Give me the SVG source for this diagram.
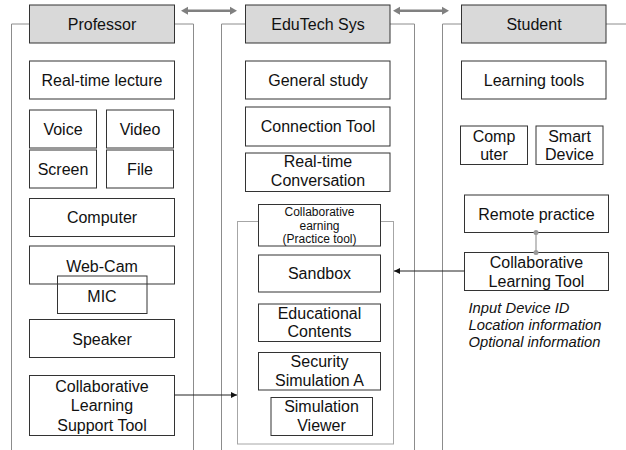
<svg xmlns="http://www.w3.org/2000/svg" width="626" height="450" viewBox="0 0 626 450">
<defs>
<style>
text{font-family:"Liberation Sans",Arial,sans-serif;font-size:16px;fill:#111;text-anchor:middle}
.box{fill:#fff;stroke:#333;stroke-width:1}
.open{fill:none;stroke:#333;stroke-width:1}
.hdr{fill:#d9d9d9;stroke:#333;stroke-width:1}
.frame{fill:none;stroke:#8c8c8c;stroke-width:1}
.inner{fill:none;stroke:#a6a6a6;stroke-width:1}
.small{font-size:12px}
.note{font-size:14px;font-style:italic;text-anchor:start}
.conn{fill:none;stroke:#222;stroke-width:1}
.dbl{fill:#808080}
</style>
<marker id="ah" viewBox="0 0 10 10" refX="10" refY="5" markerWidth="6" markerHeight="6" markerUnits="userSpaceOnUse" orient="auto"><path d="M0,0 L10,5 L0,10 z" fill="#111"/></marker>
</defs>
<rect width="626" height="450" fill="#fff"/>
<g id="frames">
<polyline class="frame" points="29.5,24 11.5,24 11.5,450"/>
<polyline class="frame" points="174.5,24 193.5,24 193.5,450"/>
<polyline class="frame" points="245.5,24 221.5,24 221.5,450"/>
<polyline class="frame" points="390,24 414.5,24 414.5,450"/>
<polyline class="frame" points="461.5,24 442.5,24 442.5,450"/>
<polyline class="frame" points="606,24 626,24"/>
<rect class="inner" x="237.5" y="221.5" width="156" height="222.5"/>
</g>
<g id="professor"><rect class="hdr" x="29.5" y="5" width="145" height="38"/><text x="102" y="29.5">Professor</text></g>
<g id="edutech"><rect class="hdr" x="245.5" y="5" width="144.5" height="38"/><text x="318" y="29.5">EduTech Sys</text></g>
<g id="student"><rect class="hdr" x="461.5" y="5" width="144.5" height="38"/><text x="534" y="29.5">Student</text></g>
<g id="realtime-lecture"><rect class="box" x="29.5" y="61" width="145" height="38"/><text x="102" y="86">Real-time lecture</text></g>
<g id="voice"><rect class="box" x="29.5" y="110" width="67" height="38"/><text x="63" y="135">Voice</text></g>
<g id="video"><rect class="box" x="106.5" y="110" width="67" height="38"/><text x="140" y="135">Video</text></g>
<g id="screen"><rect class="box" x="29.5" y="150" width="67" height="38"/><text x="63" y="175">Screen</text></g>
<g id="file"><rect class="box" x="106.5" y="150" width="67" height="38"/><text x="140" y="175">File</text></g>
<g id="computer"><rect class="box" x="29.5" y="198.5" width="145" height="38"/><text x="102" y="223">Computer</text></g>
<g id="webcam"><rect class="box" x="29.5" y="246" width="145" height="38"/><text x="102" y="271.5">Web-Cam</text></g>
<g id="mic"><rect class="open" x="57.5" y="276" width="89.5" height="37.5"/><text x="102" y="301.5">MIC</text></g>
<g id="speaker"><rect class="box" x="29.5" y="319.5" width="145" height="38"/><text x="102" y="344.5">Speaker</text></g>
<g id="collab-support"><rect class="box" x="29.5" y="375.5" width="145" height="60"/><text x="102" y="392">Collaborative</text><text x="102" y="411">Learning</text><text x="102" y="430.5">Support Tool</text></g>
<g id="general-study"><rect class="box" x="245.5" y="61" width="144.5" height="38"/><text x="318" y="86">General study</text></g>
<g id="connection-tool"><rect class="box" x="245.5" y="107" width="144.5" height="39"/><text x="318" y="132">Connection Tool</text></g>
<g id="realtime-conv"><rect class="box" x="245.5" y="153" width="144.5" height="38.5"/><text x="318" y="167">Real-time</text><text x="318" y="185.5">Conversation</text></g>
<g id="collab-practice"><rect class="box" x="258.5" y="204.5" width="122" height="41.5"/><text class="small" x="319.5" y="215.5">Collaborative</text><text class="small" x="319.5" y="229.5">earning</text><text class="small" x="319.5" y="243">(Practice tool)</text></g>
<g id="sandbox"><rect class="box" x="258.5" y="255" width="122" height="37"/><text x="319.5" y="279">Sandbox</text></g>
<g id="edu-contents"><rect class="box" x="258.5" y="304" width="122" height="37.5"/><text x="319.5" y="318.5">Educational</text><text x="319.5" y="337">Contents</text></g>
<g id="security-sim"><rect class="box" x="258.5" y="352.5" width="122" height="37.5"/><text x="319.5" y="367">Security</text><text x="319.5" y="385.5">Simulation A</text></g>
<g id="sim-viewer"><rect class="box" x="271" y="397.5" width="101.5" height="38"/><text x="321.5" y="412">Simulation</text><text x="321.5" y="430.5">Viewer</text></g>
<g id="learning-tools"><rect class="box" x="461.5" y="61" width="144.5" height="38"/><text x="534" y="86">Learning tools</text></g>
<g id="s-computer"><rect class="box" x="460.5" y="126" width="67" height="38.5"/><text x="494" y="141.5">Comp</text><text x="494" y="159.5">uter</text></g>
<g id="smart-device"><rect class="box" x="536" y="126" width="67" height="38.5"/><text x="569.5" y="141.5">Smart</text><text x="569.5" y="159.5">Device</text></g>
<g id="remote-practice"><rect class="box" x="464.5" y="195" width="144" height="37.5"/><text x="536.5" y="219.5">Remote practice</text></g>
<g id="collab-tool"><rect class="box" x="464.5" y="252.5" width="144" height="38"/><text x="536.5" y="267.5">Collaborative</text><text x="536.5" y="286.5">Learning Tool</text></g>
<g id="notes"><text class="note" x="468.5" y="312.5" textLength="101" lengthAdjust="spacingAndGlyphs">Input Device ID</text><text class="note" x="468.5" y="330" textLength="133" lengthAdjust="spacingAndGlyphs">Location information</text><text class="note" x="468.5" y="347" textLength="132" lengthAdjust="spacingAndGlyphs">Optional information</text></g>
<g id="connectors">
<polygon class="dbl" points="181,10.7 188,6.7 188,9.4 230,9.4 230,6.7 237,10.7 230,14.7 230,12 188,12 188,14.7"/>
<polygon class="dbl" points="393,10.7 400,6.7 400,9.4 442,9.4 442,6.7 449,10.7 442,14.7 442,12 400,12 400,14.7"/>
<line class="conn" x1="174.5" y1="395" x2="237" y2="395" marker-end="url(#ah)"/>
<line class="conn" x1="464.5" y1="271" x2="394" y2="271" marker-end="url(#ah)"/>
<line x1="536" y1="232.5" x2="536" y2="252.5" stroke="#999" stroke-width="1.2"/>
<circle cx="536" cy="232.5" r="2.5" fill="#999"/>
<circle cx="536" cy="252.5" r="2.5" fill="#999"/>
</g>
</svg>
